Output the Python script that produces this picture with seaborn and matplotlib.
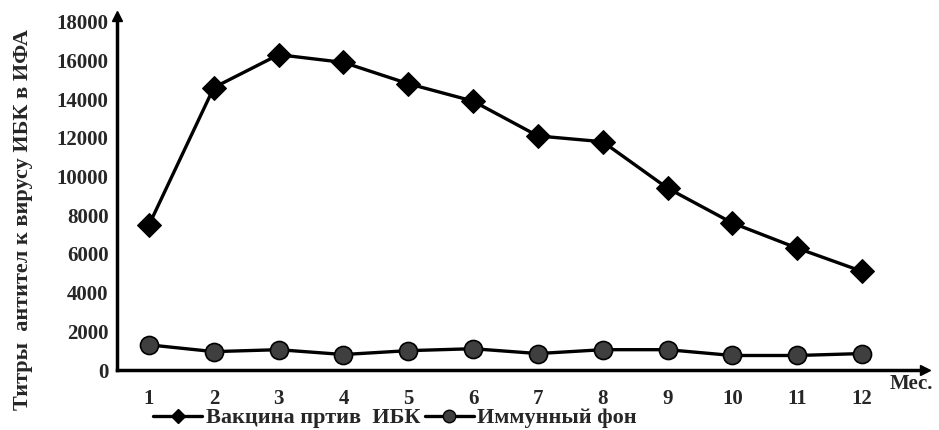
import numpy as np
import pandas as pd
import matplotlib
matplotlib.use("Agg")
import matplotlib.pyplot as plt
import seaborn as sns
from matplotlib.lines import Line2D

months = [1, 2, 3, 4, 5, 6, 7, 8, 9, 10, 11, 12]
vaccine = [7500, 14600, 16300, 15900, 14800, 13900, 12100, 11800, 9400, 7600, 6300, 5100]
background = [1300, 950, 1050, 800, 1000, 1100, 850, 1050, 1050, 750, 750, 850]
series_names = ["Вакцина пртив  ИБК", "Иммунный фон"]
yticks = [0, 2000, 4000, 6000, 8000, 10000, 12000, 14000, 16000, 18000]
ylabel = "Титры  антител к вирусу ИБК в ИФА"
xlabel = "Мес."

df = pd.DataFrame({
    "month": months * 2,
    "value": vaccine + background,
    "series": [series_names[0]] * 12 + [series_names[1]] * 12,
})

sns.set_theme(style="white")
plt.rcParams["font.family"] = ["Liberation Serif", "DejaVu Serif"]
plt.rcParams["font.weight"] = "bold"

fig = plt.figure(figsize=(9.39, 4.30), dpi=100)
ax = fig.add_axes([117 / 939, 1 - 370 / 430, (925 - 117) / 939, (370 - 16) / 430])

sns.lineplot(data=df, x="month", y="value", hue="series", style="series",
             palette=["black", "black"], markers=["D", "o"], dashes=False,
             linewidth=2.4, markersize=12, ax=ax, legend=False)
for line in ax.get_lines():
    if line.get_marker() == "o":
        line.set_markerfacecolor("#3f3f3f")
        line.set_markeredgecolor("black")
        line.set_markeredgewidth(1.2)
        line.set_markersize(13)
    else:
        line.set_markerfacecolor("black")
        line.set_markeredgecolor("black")

ax.set_xlim(1 - 32 / 64.8, 12 + 63 / 64.8)
ax.set_ylim(0, 18300)
ax.set_xticks(months)
ax.set_xticklabels([str(m) for m in months], fontsize=15, fontweight="bold")
ax.set_yticks(yticks)
ax.set_yticklabels([str(t) for t in yticks], fontsize=15, fontweight="bold")
ax.tick_params(axis="x", direction="inout", length=6, width=1.5, color="black", pad=10.5)
ax.tick_params(axis="y", direction="in", length=5, width=1.5, color="black", pad=6)
ax.set_xlabel("")
ax.set_ylabel(ylabel, fontsize=16, fontweight="bold")
ax.yaxis.set_label_coords((33 - 117) / 808, (370 - 220) / 354)

for s in ["top", "right"]:
    ax.spines[s].set_visible(False)
for s in ["left", "bottom"]:
    ax.spines[s].set_color("black")
    ax.spines[s].set_linewidth(2.5)

ax.plot(1, 0, ">", transform=ax.transAxes, color="black", markersize=7, clip_on=False)
ax.plot(0, 1, "^", transform=ax.transAxes, color="black", markersize=7, clip_on=False)

fig.text(890 / 939, 1 - 384 / 430, xlabel, fontsize=15, fontweight="bold",
         ha="left", va="center")

handles = [
    Line2D([], [], color="black", lw=2.4, marker="D", markersize=7,
           markerfacecolor="black"),
    Line2D([], [], color="black", lw=2.4, marker="o", markersize=9,
           markerfacecolor="#3f3f3f", markeredgecolor="black"),
]
fig.legend(handles, series_names, loc="center", bbox_to_anchor=(395 / 939, 1 - 418 / 430),
           ncol=2, frameon=False, prop={"size": 16, "weight": "bold"},
           handlelength=2.2, handletextpad=0.15, columnspacing=0.2,
           borderpad=0, borderaxespad=0)

fig.savefig("out.png", dpi=100)
